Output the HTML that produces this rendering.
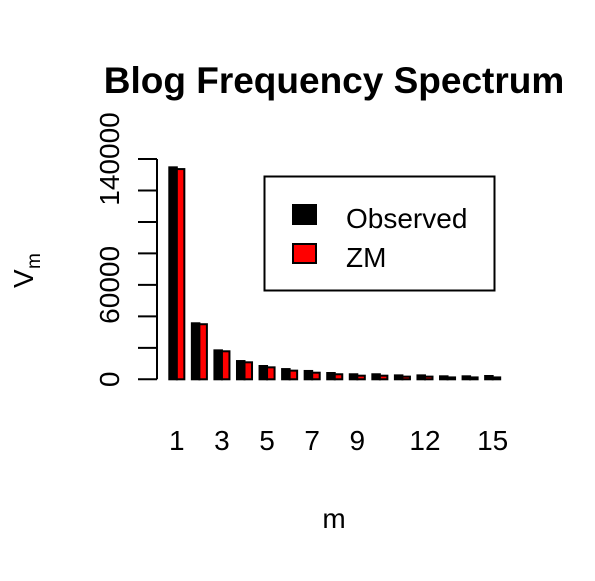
<!DOCTYPE html>
<html><head><meta charset="utf-8"><style>body{margin:0;background:#fff}svg{font-family:"Liberation Sans",sans-serif}</style></head><body>
<svg width="595" height="576">
<g id="plot"></g>
</svg>
<script>
const categories=[1,2,3,4,5,6,7,8,9,10,11,12,13,14,15];
const observed=[134700,35600,18400,11600,8450,6500,5300,4000,3200,3200,2500,2500,1900,1900,2100];
const zm=[133600,35000,17800,10800,7600,5500,4200,3200,2300,2300,1700,1700,1200,1200,1200];
const yTicks=[0,20000,40000,60000,80000,100000,120000,140000];
const yLabels=["0","","","60000","","","","140000"];
const xLabelCats=[1,3,5,7,9,12,15];
const y=v=>379.3-v*(220.3/140000);
const w=7.52, x0=169.3;
const gx=i=>x0+i*3*w;
const ns='http://www.w3.org/2000/svg';
const g=document.getElementById('plot');
function mk(t,a,txt){const e=document.createElementNS(ns,t);for(const k in a)e.setAttribute(k,a[k]);if(txt!==undefined)e.textContent=txt;g.appendChild(e);return e;}
let e;
e=mk('text',{x:334,y:93,'text-anchor':'middle','font-size':37,'font-weight':'bold'},'Blog Frequency Spectrum');

e=mk('line',{x1:157,x2:157,y1:y(0),y2:y(140000),stroke:'#000','stroke-width':2});

yTicks.forEach((t,i)=>{
 e=mk('line',{x1:138,x2:157,y1:y(t),y2:y(t),stroke:'#000','stroke-width':2});
 
 if(yLabels[i]){e=mk('text',{x:0,y:0,transform:`translate(119,${y(t)}) rotate(-90)`,'text-anchor':'middle','font-size':28},yLabels[i]);
 }
});
categories.forEach((c,i)=>{
 e=mk('rect',{x:gx(i),y:y(observed[i]),width:w,height:y(0)-y(observed[i]),fill:'#000',stroke:'#000','stroke-width':2});
 
 e=mk('rect',{x:gx(i)+w,y:y(zm[i]),width:w,height:y(0)-y(zm[i]),fill:'#f00',stroke:'#000','stroke-width':2});
 
 if(xLabelCats.includes(c)){e=mk('text',{x:gx(i)+w,y:450,'text-anchor':'middle','font-size':28},String(c));
 }
});
e=mk('text',{x:334,y:528,'text-anchor':'middle','font-size':28},'m');

e=mk('text',{x:0,y:0,transform:'translate(33,288) rotate(-90)','font-size':28},'V');

e=mk('text',{x:0,y:0,transform:'translate(40,269) rotate(-90)','font-size':19},'m');

e=mk('rect',{x:264.5,y:176.5,width:230,height:114,fill:'none',stroke:'#000','stroke-width':2});

e=mk('rect',{x:293,y:205,width:23,height:19,fill:'#000',stroke:'#000','stroke-width':2});

e=mk('text',{x:346,y:228,'font-size':28},'Observed');

e=mk('rect',{x:293,y:244,width:23,height:19,fill:'#f00',stroke:'#000','stroke-width':2});

e=mk('text',{x:346,y:267,'font-size':28},'ZM');

</script>
</body></html>
